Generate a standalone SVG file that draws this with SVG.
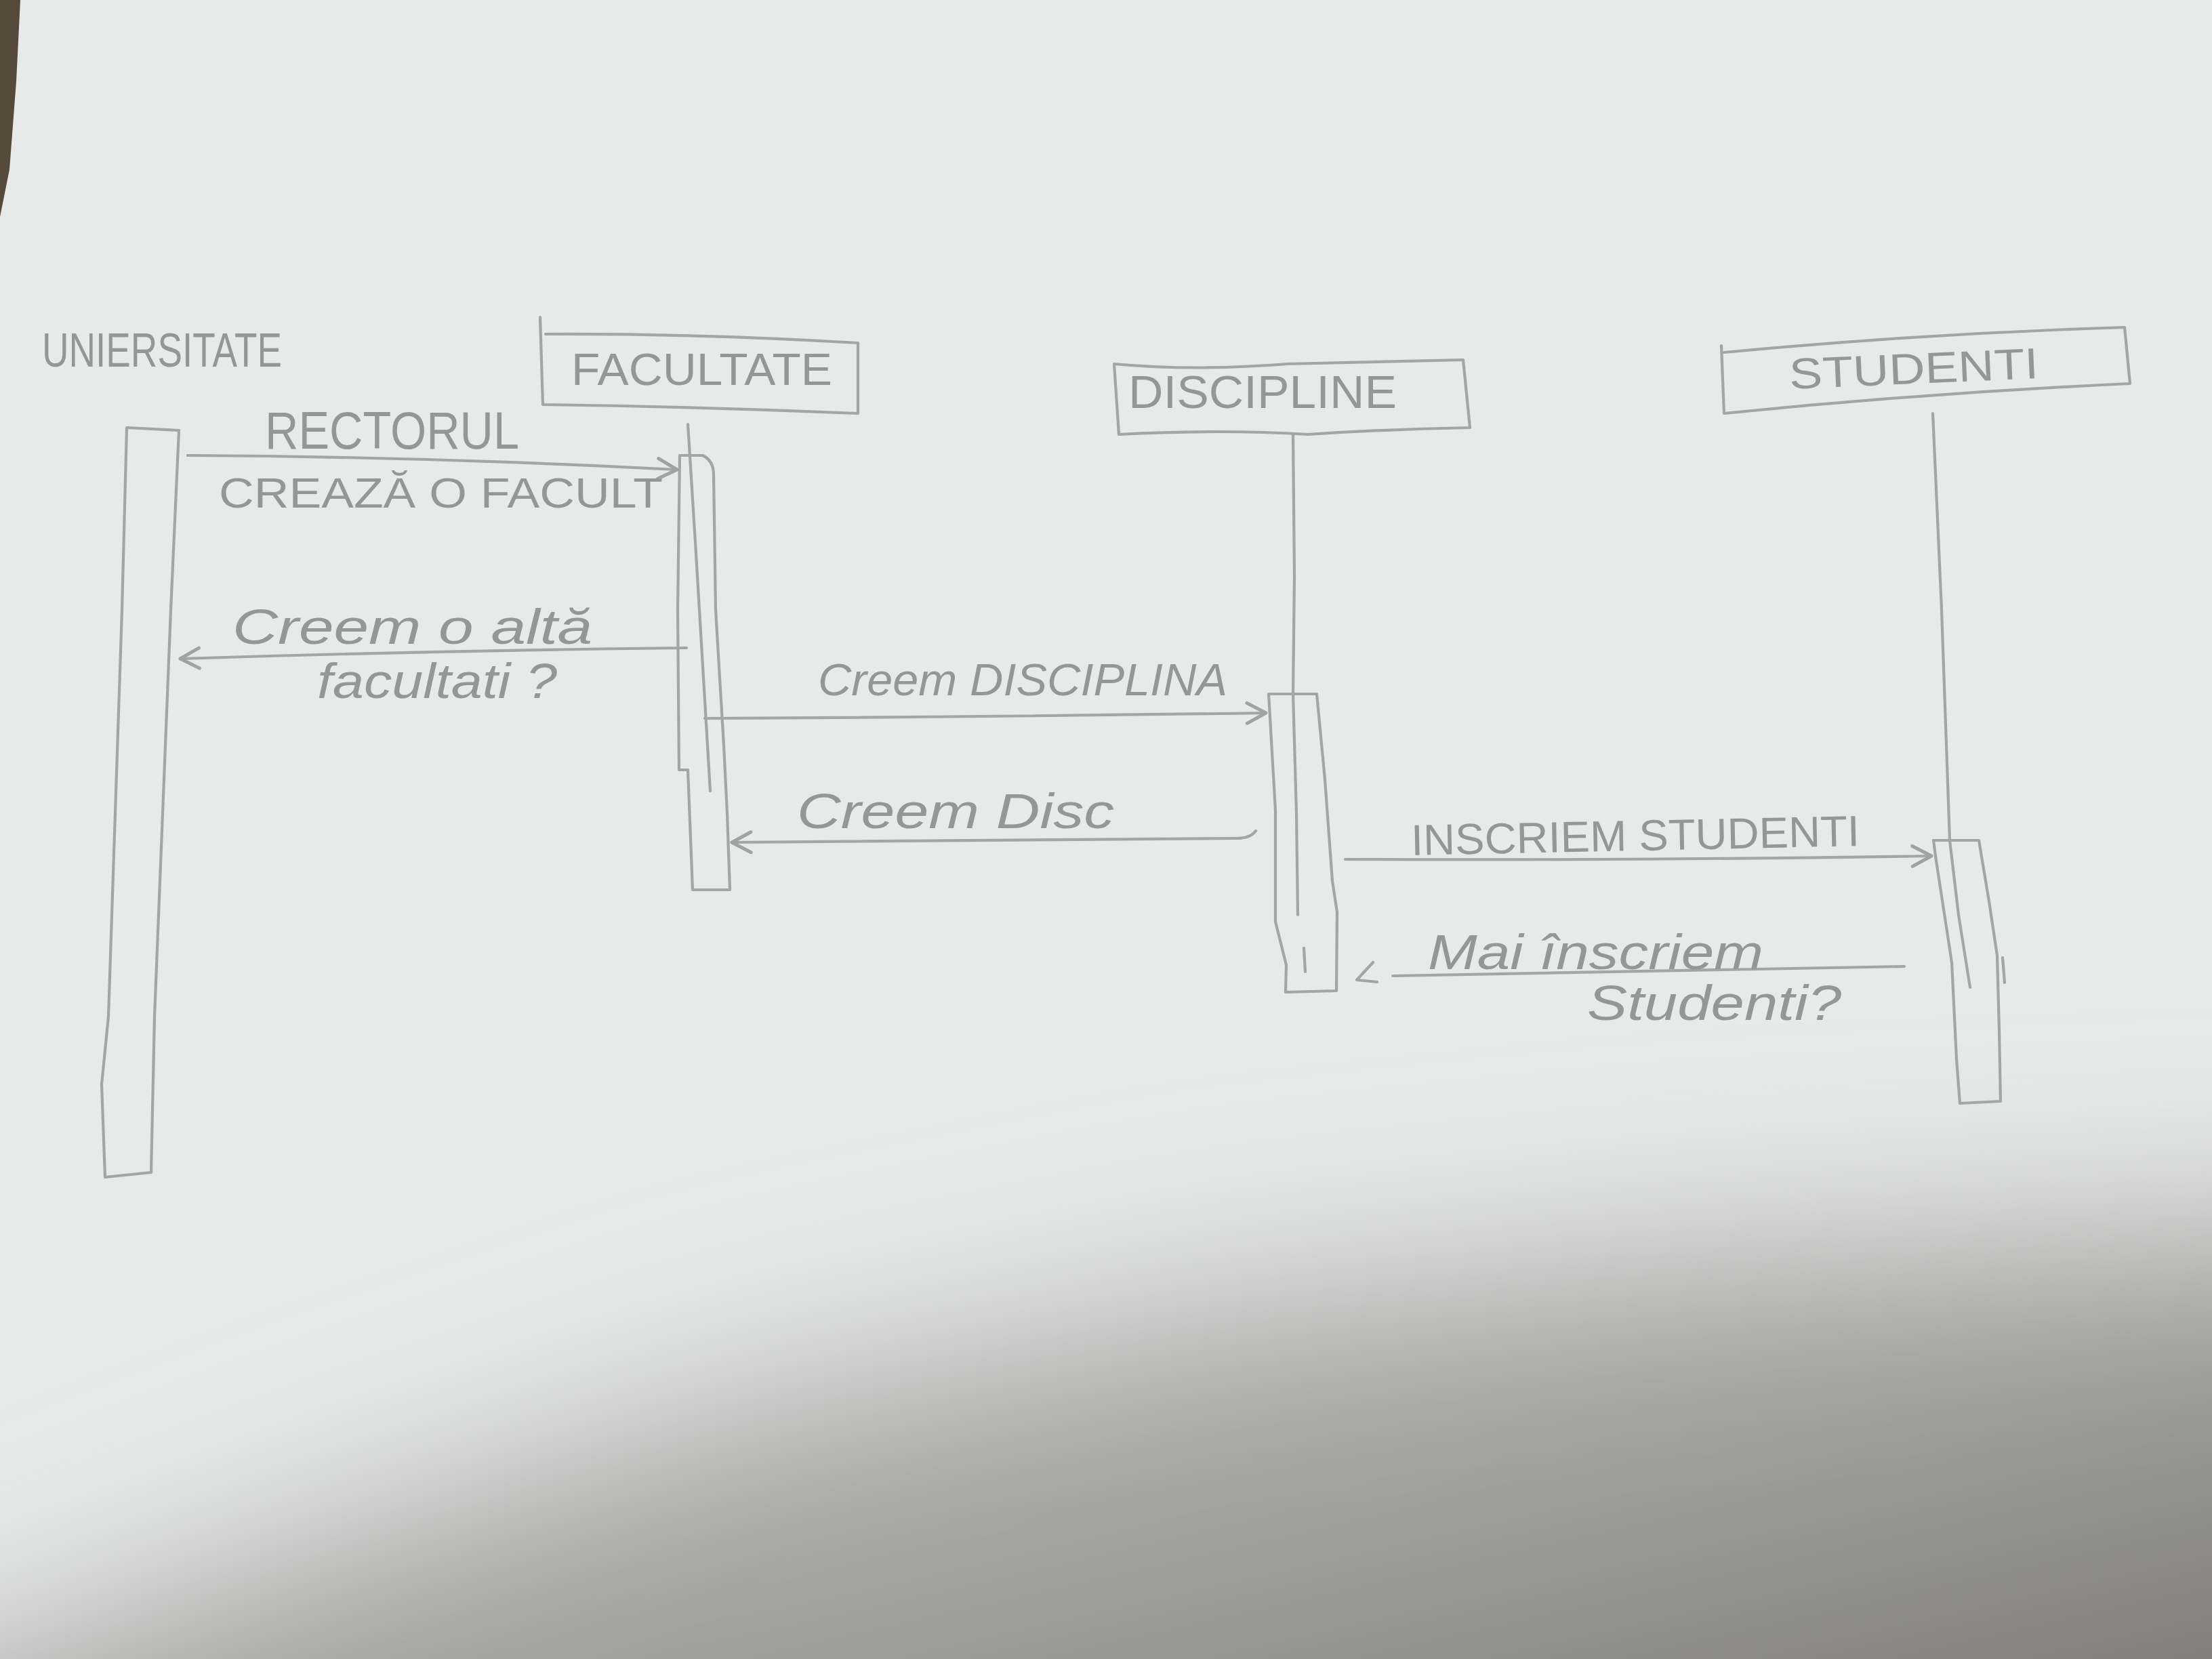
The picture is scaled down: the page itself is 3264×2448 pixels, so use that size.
<svg xmlns="http://www.w3.org/2000/svg" width="3264" height="2448" viewBox="0 0 3264 2448">
<defs>
<style>
.ink{fill:none;stroke:#a2a6a7;stroke-width:4.2;stroke-linecap:round;stroke-linejoin:round}
.lbl{font-family:"Liberation Sans","Noto Sans",sans-serif;fill:#939798}
.hand{font-family:"Liberation Sans","Noto Sans",sans-serif;font-style:italic;fill:#939798}
</style>
<marker id="open" viewBox="0 0 40 40" refX="36" refY="20" markerWidth="40" markerHeight="40" markerUnits="userSpaceOnUse" orient="auto">
<path d="M8,5 L36,20 L8,35" fill="none" stroke="#9fa3a4" stroke-width="5" stroke-linecap="round" stroke-linejoin="round"/>
</marker>
<linearGradient id="shade" x1="0.1" y1="0" x2="0.9" y2="1">
<stop offset="0" stop-color="#c3c5c4"/>
<stop offset="0.5" stop-color="#9d9d99"/>
<stop offset="1" stop-color="#5f5c54"/>
</linearGradient>
<filter id="blur" x="-30%" y="-30%" width="160%" height="160%">
<feGaussianBlur stdDeviation="140"/>
</filter>
</defs>

<rect x="0" y="0" width="3264" height="2448" fill="#e8eaea"/>
<polygon points="-400,2950 -400,2600 500,2260 1100,2060 1800,1920 2500,1850 3700,1800 3700,2950" fill="url(#shade)" filter="url(#blur)"/>
<polygon points="0,0 30,0 24,120 14,250 0,320" fill="#54493a"/>

<g id="universitate">
<text class="lbl" x="62" y="541" font-size="70" textLength="354" lengthAdjust="spacingAndGlyphs">UNIERSITATE</text>
<path class="ink" d="M187,631 L264,635 L252,900 L238,1250 L228,1500 L223,1730 L155,1737 L150,1600 L160,1500 L170,1200 L180,900 Z"/>
</g>

<g id="facultate">
<path class="ink" d="M797,468 L801,597 Q1030,600 1266,610 L1266,506 Q1030,492 805,493"/>
<text class="lbl" x="843" y="568" font-size="66" textLength="385" lengthAdjust="spacingAndGlyphs">FACULTATE</text>
<path class="ink" d="M1015,626 L1026,800 L1038,1000 L1048,1167"/>
<path class="ink" d="M1003,672 L1037,672 Q1053,680 1053,700 L1056,900 L1068,1100 L1073,1200 L1077,1313 L1022,1313 L1015,1136 L1002,1136 L1000,900 Z"/>
</g>

<g id="discipline">
<path class="ink" d="M1644,537 Q1760,548 1900,537 L2159,531 L2169,631 Q2050,633 1930,641 Q1800,633 1651,641 Z"/>
<text class="lbl" x="1665" y="602" font-size="68" textLength="396" lengthAdjust="spacingAndGlyphs">DISCIPLINE</text>
<path class="ink" d="M1908,641 L1910,850 L1908,1024 L1913,1200 L1915,1350"/>
<path class="ink" d="M1924,1399 L1926,1434"/>
<path class="ink" d="M1872,1024 L1943,1024 L1955,1150 L1966,1300 L1973,1346 L1972,1462 L1897,1464 L1898,1424 L1882,1360 L1882,1196 Z"/>
</g>

<g id="studenti">
<path class="ink" d="M2540,510 L2544,610 Q2840,580 3143,566 L3135,483 Q2840,492 2544,520"/>
<text class="lbl" x="2640" y="566" font-size="64" textLength="368" lengthAdjust="spacingAndGlyphs" transform="rotate(-2.5 2824 545)">STUDENTI</text>
<path class="ink" d="M2852,610 L2865,900 L2877,1240 L2890,1350 L2907,1457"/>
<path class="ink" d="M2853,1240 L2920,1240 L2935,1330 L2947,1410 L2950,1520 L2952,1625 L2892,1628 L2887,1563 L2880,1420 L2857,1270 Z"/>
<path class="ink" d="M2955,1413 L2958,1450"/>
</g>

<g id="connectors">
<path class="ink" d="M277,672 Q640,674 999,693" marker-end="url(#open)"/>
<text class="lbl" x="391" y="662" font-size="78" textLength="375" lengthAdjust="spacingAndGlyphs">RECTORUL</text>
<text class="lbl" x="323" y="749" font-size="63" textLength="655" lengthAdjust="spacingAndGlyphs">CREAZĂ O FACULT</text>

<path class="ink" d="M1013,956 Q640,960 266,972" marker-end="url(#open)"/>
<text class="hand" x="343" y="950" font-size="72" textLength="531" lengthAdjust="spacingAndGlyphs">Creem o altă</text>
<text class="hand" x="468" y="1030" font-size="72" textLength="354" lengthAdjust="spacingAndGlyphs">facultati ?</text>

<path class="ink" d="M1040,1060 Q1450,1058 1868,1052" marker-end="url(#open)"/>
<text class="hand" x="1207" y="1026" font-size="66" textLength="604" lengthAdjust="spacingAndGlyphs">Creem DISCIPLINA</text>

<path class="ink" d="M1853,1226 Q1845,1237 1825,1237 L1080,1243" marker-end="url(#open)"/>
<text class="hand" x="1176" y="1222" font-size="72" textLength="468" lengthAdjust="spacingAndGlyphs">Creem Disc</text>

<path class="ink" d="M1985,1268 Q2400,1270 2850,1263" marker-end="url(#open)"/>
<text class="lbl" x="2082" y="1255" font-size="64" textLength="662" lengthAdjust="spacingAndGlyphs" transform="rotate(-1.2 2413 1235)">INSCRIEM STUDENTI</text>

<path class="ink" d="M2810,1426 Q2420,1432 2055,1440"/>
<path class="ink" d="M2026,1420 L2002,1446 L2032,1449"/>
<text class="hand" x="2107" y="1430" font-size="72" textLength="495" lengthAdjust="spacingAndGlyphs">Mai înscriem</text>
<text class="hand" x="2342" y="1505" font-size="72" textLength="375" lengthAdjust="spacingAndGlyphs">Studenti?</text>
</g>
</svg>
